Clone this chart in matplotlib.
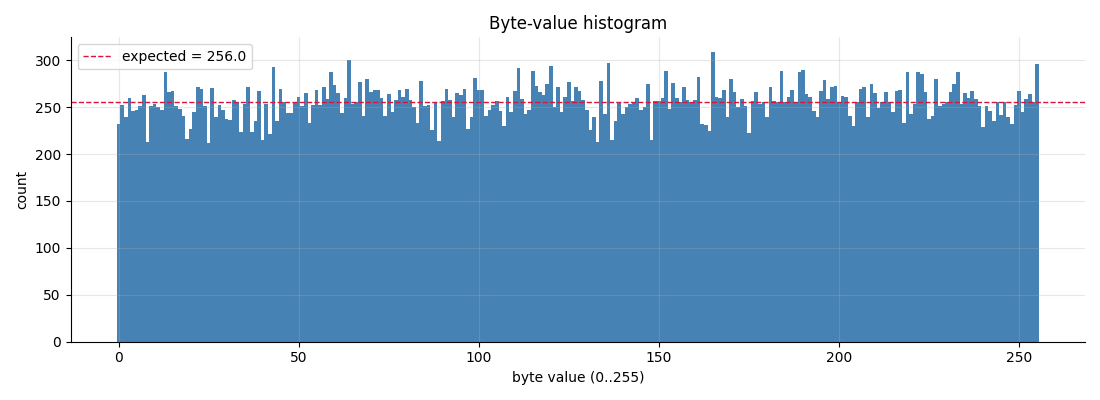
import matplotlib
matplotlib.use("Agg")
import matplotlib.pyplot as plt
import numpy as np

# counts per byte value
counts_0_63 = [
    232, 252, 239, 260, 246, 247, 251, 263, 213, 251, 253, 250, 247, 288, 266, 267,
    251, 248, 241, 216, 227, 245, 271, 269, 251, 212, 270, 240, 252, 247, 237, 236,
    258, 255, 224, 253, 272, 224, 235, 267, 215, 253, 221, 293, 235, 269, 256, 244,
    244, 256, 261, 251, 265, 233, 252, 268, 252, 272, 259, 287, 274, 265, 244, 260,
]
counts_64_127 = [
    300, 253, 255, 277, 241, 280, 266, 268, 268, 260, 241, 264, 245, 258, 268, 261,
    269, 258, 250, 233, 278, 251, 252, 226, 255, 214, 257, 269, 258, 240, 265, 263,
    269, 227, 240, 281, 268, 268, 241, 247, 252, 257, 246, 230, 261, 245, 267, 292,
    259, 243, 247, 289, 273, 266, 263, 275, 294, 250, 272, 245, 261, 277, 257, 272,
]
counts_128_191 = [
    267, 258, 247, 226, 239, 213, 278, 243, 297, 215, 235, 256, 243, 250, 253, 256,
    260, 247, 250, 275, 215, 257, 257, 260, 289, 248, 276, 260, 256, 272, 258, 256,
    258, 282, 232, 231, 225, 309, 261, 260, 268, 240, 280, 266, 250, 259, 251, 222,
    257, 266, 253, 255, 240, 272, 257, 256, 289, 256, 261, 268, 256, 288, 290, 264,
]
counts_192_255 = [
    261, 246, 239, 267, 279, 259, 272, 273, 256, 262, 261, 241, 230, 256, 269, 272,
    239, 275, 265, 249, 256, 266, 255, 245, 267, 268, 233, 288, 243, 253, 288, 285,
    266, 237, 241, 280, 251, 253, 256, 266, 275, 287, 253, 265, 260, 267, 259, 251,
    229, 251, 246, 235, 256, 242, 256, 240, 232, 252, 267, 245, 259, 264, 256, 296,
]
counts = counts_0_63 + counts_64_127 + counts_128_191 + counts_192_255
byte_values = np.arange(256)
expected = 65536 / 256

fig, ax = plt.subplots(figsize=(11, 4), dpi=100)
ax.bar(byte_values, counts, width=1.0, color='steelblue')
ax.axhline(expected, color='crimson', linestyle='--', linewidth=1,
           label=f'expected = {expected:.1f}')
ax.set_title("Byte-value histogram")
ax.set_xlabel("byte value (0..255)")
ax.set_ylabel("count")
ax.grid(True, alpha=0.3)
ax.spines['top'].set_visible(False)
ax.spines['right'].set_visible(False)
ax.legend(loc='upper left')
plt.tight_layout()
plt.savefig('out.png', dpi=100)
